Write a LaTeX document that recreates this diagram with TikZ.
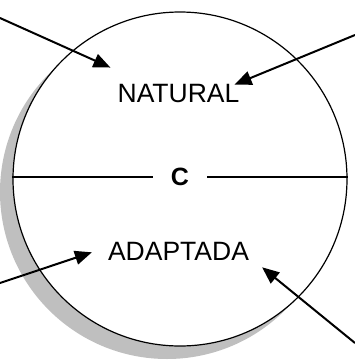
\documentclass[tikz,border=0pt]{standalone}
\usepackage{fontspec}
\setmainfont{Liberation Sans}
\usepackage{tikz}
\usetikzlibrary{positioning, arrows.meta, calc, shadows}

\begin{document}
\begin{tikzpicture}[
        x=1pt, y=-1pt,
        ring/.style={draw, circle, line width=1.2pt, fill=white, minimum size=334pt, inner sep=0pt,
            drop shadow={shadow xshift=-13pt, shadow yshift=-13pt, fill=black!25, opacity=1}},
        word/.style={font=\fontsize{26.5}{30}\selectfont, inner sep=0pt},
        conn/.style={-{Triangle[length=17pt, width=14pt]}, line width=2pt},
        sep/.style={line width=1.2pt},
    ]
    \useasboundingbox (0,0) rectangle (355,360);

    % Circle with shadow
    \node[ring] (ring) at (180,179) {};

    % Texts
    \node[word] (natural) at (178.5,94) {NATURAL};
    \node[word] (adaptada) at (178.5,251) {ADAPTADA};
    \node[word, font=\fontsize{25}{30}\selectfont\bfseries, inner xsep=18pt] (c) at (180,177) {C};

    % Dividing line
    \draw[sep] (ring.west |- c.west) -- (c.west);
    \draw[sep] (c.east) -- (ring.east |- c.east);

    % Outer ends
    \coordinate (nw) at (0,18);
    \coordinate (ne) at (355,35);
    \coordinate (sw) at (0,283);
    \coordinate (se) at (355,343);

    % Arrows
    \draw[conn] (nw) -- ($(natural.north west)+(-7,-17)$);
    \draw[conn] (ne) -- ($(natural.north east)+(-5,0)$);
    \draw[conn] (sw) -- ($(adaptada.south west)+(-16,-8)$);
    \draw[conn] (se) -- ($(adaptada.south east)+(13,7)$);
\end{tikzpicture}
\end{document}
